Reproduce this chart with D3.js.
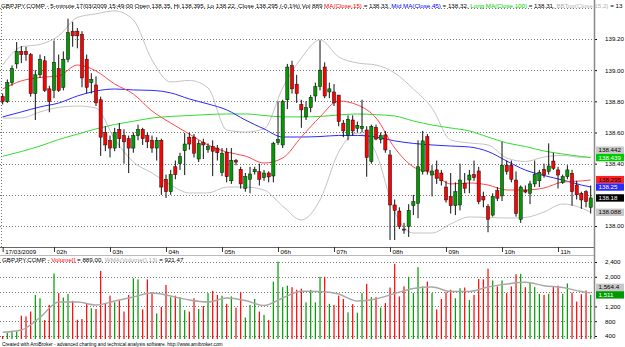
<!DOCTYPE html>
<html>
<head>
<meta charset="utf-8">
<script src="https://cdn.jsdelivr.net/npm/d3@7"></script>
<style>
body { margin: 0; background: #fff; }
svg { display: block; font-family: 'Liberation Sans', Arial, sans-serif; }
</style>
</head>
<body>
<svg id="chart" width="625" height="347"></svg>
<script>
// ---- data (GBPJPY 5-minute bars) ----
let openP = [138.83,138.80,138.92,139.04,139.12,139.12,139.10,138.85,138.97,139.06,138.88,138.87,139.01,138.89,139.07,139.25,139.25,139.23,139.07,138.92,138.905,
  138.81,138.60,138.55,138.50,138.62,138.58,138.56,138.50,138.58,138.62,138.58,138.55,138.50,138.55,138.30,138.22,138.38,
  138.40,138.483,138.57,138.57,138.43,138.535,138.49,138.51,138.50,138.342,138.473,138.29,138.42,138.364,138.242,138.30,138.348,138.348,138.31,138.34,138.321,138.535,
  138.52,138.81,139.03,138.91,138.78,138.70,138.76,138.834,138.894,139.02,138.86,138.86,138.84,138.66,138.58,138.68,138.627,138.625,138.616,138.413,138.633,138.555,
  138.584,138.456,138.135,138.096,137.98,137.996,138.13,138.146,138.35,138.573,138.327,138.36,138.34,138.25,138.19,138.13,138.135,138.274,138.295,138.33,
  138.353,138.19,138.124,138.07,138.227,138.193,138.39,138.39,138.295,138.043,138.23,138.21,138.27,138.29,138.364,138.35,138.417,138.36,138.278,138.316,
  138.338,138.263,138.21,138.22,138.12];
let highP = [138.85,138.94,139.03,139.18,139.155,139.15,139.11,139.00,139.10,139.09,138.90,139.19,139.10,139.12,139.33,139.31,139.27,139.25,139.10,138.98,138.96,
  138.83,138.64,138.58,138.63,138.66,138.62,138.58,138.60,138.65,138.63,138.60,138.58,138.57,138.56,138.33,138.36,138.42,
  138.47,138.597,138.60,138.59,138.55,138.56,138.53,138.55,138.52,138.50,138.50,138.50,138.43,138.38,138.34,138.38,138.38,138.40,138.36,138.35,138.54,138.80,
  138.81,139.04,139.06,138.97,138.81,138.80,138.84,138.92,139.19,139.05,138.92,138.91,138.84,138.68,138.71,138.71,138.67,138.81,138.64,138.65,138.65,138.60,
  138.61,138.488,138.17,138.12,138.02,138.14,138.20,138.55,138.61,138.59,138.39,138.42,138.36,138.29,138.34,138.28,138.40,138.34,138.36,138.42,
  138.38,138.22,138.14,138.21,138.25,138.54,138.42,138.42,138.35,138.26,138.26,138.29,138.42,138.36,138.40,138.53,138.47,138.38,138.33,138.39,
  138.36,138.29,138.22,138.23,138.26];
let lowP = [138.78,138.79,138.90,139.01,139.045,139.06,138.83,138.68,138.95,138.86,138.73,138.82,138.86,138.87,139.05,139.15,139.14,138.89,138.85,138.85,138.77,
  138.45,138.48,138.44,138.48,138.50,138.40,138.34,138.47,138.55,138.52,138.50,138.47,138.42,138.20,138.18,138.20,138.30,
  138.36,138.327,138.49,138.44,138.41,138.43,138.47,138.32,138.42,138.32,138.28,138.27,138.39,138.24,138.22,138.21,138.33,138.26,138.29,138.28,138.28,138.52,
  138.50,138.75,138.85,138.79,138.63,138.68,138.73,138.80,138.87,138.82,138.82,138.77,138.64,138.57,138.55,138.58,138.60,138.60,138.316,138.40,138.55,138.53,
  138.47,137.91,137.91,137.98,137.95,137.93,138.07,138.05,138.33,138.33,138.19,138.27,138.26,138.15,138.08,138.07,138.10,138.21,138.21,138.29,
  138.14,138.12,137.96,138.06,138.16,138.16,138.33,138.28,138.06,138.02,138.21,138.14,138.25,138.25,138.31,138.33,138.36,138.24,138.27,138.30,
  138.13,138.17,138.11,138.12,138.08];
let closeP = [138.80,138.92,139.01,139.12,139.10,139.10,138.85,138.97,139.07,138.87,138.80,139.05,138.87,139.07,139.24,139.22,139.22,138.95,138.89,138.94,138.79,
  138.57,138.52,138.50,138.60,138.56,138.54,138.50,138.58,138.62,138.56,138.54,138.50,138.55,138.25,138.22,138.33,138.33,
  138.445,138.526,138.526,138.467,138.53,138.52,138.51,138.48,138.47,138.467,138.316,138.42,138.41,138.27,138.317,138.334,138.364,138.30,138.34,138.315,138.531,138.556,
  138.80,139.02,138.88,138.85,138.745,138.76,138.826,138.894,139.00,138.834,138.88,138.79,138.67,138.61,138.685,138.61,138.646,138.64,138.44,138.64,138.558,138.58,
  138.488,138.135,138.10,137.996,137.975,138.10,138.156,138.38,138.546,138.353,138.353,138.306,138.29,138.167,138.13,138.22,138.295,138.242,138.327,138.31,
  138.156,138.167,138.043,138.19,138.178,138.39,138.35,138.30,138.08,138.25,138.218,138.27,138.33,138.345,138.327,138.385,138.37,138.327,138.316,138.36,
  138.22,138.20,138.167,138.156,138.18];
let volume = [400,480,540,520,950,930,1060,1510,1420,830,1240,2090,1560,1440,1540,1350,840,860,1290,1150,1130,2160,1270,1490,1310,1360,1060,1510,1960,1930,
  1120,1930,1580,1010,1190,1780,1450,1490,1450,1100,1060,1420,1130,1210,1560,1620,1510,1490,1270,1470,1170,1580,900,1240,1400,1060,970,830,1870,2410,
  1720,1760,1720,1650,1680,1310,1650,1310,2000,2000,1270,1240,1490,1400,1040,1260,1030,1560,1810,1450,1450,1170,1290,1710,2350,1470,1740,2000,1560,2260,
  1740,1870,1560,1120,1400,1580,1650,1420,1690,1710,1370,1510,1940,1930,2220,1900,1740,1900,1560,1740,2070,2080,1720,1850,1720,1540,1510,1540,1740,1760,
  1540,1820,1570,1330,1530,1630,1511];

// indicator lines, read every 4th bar
let lineIdx = [0,4,8,12,16,20,24,28,32,36,40,44,48,52,56,60,64,68,72,76,80,84,88,92,96,100,104,108,112,116,120,124,126];
let ma15 = [138.879,138.931,138.953,138.963,139.033,138.995,138.911,138.847,138.738,138.661,138.590,138.520,138.475,138.449,138.404,138.436,138.571,
  138.700,138.802,138.777,138.693,138.501,138.379,138.340,138.270,138.276,138.263,138.231,138.231,138.244,138.282,138.289,138.295];
let ma45 = [138.700,138.732,138.764,138.789,138.834,138.866,138.879,138.873,138.870,138.854,138.815,138.783,138.745,138.680,138.623,138.571,138.571,
  138.574,138.581,138.581,138.571,138.546,138.530,138.520,138.513,138.507,138.478,138.417,138.359,138.324,138.295,138.263,138.25];
let ma100 = [138.447,138.478,138.513,138.555,138.589,138.623,138.651,138.672,138.693,138.703,138.709,138.715,138.719,138.719,138.709,138.700,138.700,
  138.703,138.712,138.719,138.714,138.706,138.674,138.648,138.629,138.610,138.571,138.533,138.510,138.481,138.462,138.446,138.439];
let bbTop = [139.033,139.149,139.165,139.220,139.338,139.361,139.380,139.322,139.065,138.924,138.934,138.886,138.616,138.603,138.623,138.886,139.078,
  139.194,139.085,139.046,139.033,138.982,138.879,138.757,138.552,138.533,138.520,138.436,138.414,138.443,138.453,138.440,138.442];
let bbBot = [138.693,138.693,138.732,138.761,138.770,138.757,138.558,138.411,138.340,138.263,138.212,138.212,138.250,138.250,138.231,138.128,138.039,
  138.167,138.475,138.597,138.469,138.090,137.955,137.955,138.013,138.058,138.055,138.051,138.055,138.090,138.141,138.116,138.088];
let volWma = [500,562,900,1319,1319,1238,1346,1454,1562,1481,1373,1319,1427,1359,1224,1427,1608,1603,1535,1346,1400,1549,1684,1724,1603,1603,1724,
  1805,1851,1759,1711,1603,1564.4];

let timeTickIdx = [0, 11, 23, 35, 47, 59, 71, 83, 95, 107, 119];
let timeTickLabels = ['17/03/2009', '02h', '03h', '04h', '05h', '06h', '07h', '08h', '09h', '10h', '11h'];
let priceTicks = [138.0, 138.2, 138.4, 138.6, 138.8, 139.0, 139.2, 139.4];
let volTicks = [400, 800, 1200, 1600, 2000, 2400];

let upColor = '#009a00', downColor = '#ff0000';

// ---- layout ----
let svg = d3.select('#chart');
let plotRight = 594;
let pricePane = {t: 0, b: 247};
let volPane = {t: 255, b: 339};

let xScale = d3.scaleLinear().domain([0, closeP.length - 1]).range([2.67, 590.7]);
let yPrice = d3.scaleLinear().domain([138, 139.4]).range([226, 7.8]);
let yVol = d3.scaleLinear().domain([400, 2400]).range([336, 262]);

let defs = svg.append('defs');
defs.append('clipPath').attr('id', 'clipPrice').append('rect')
    .attr('x', 0).attr('y', pricePane.t).attr('width', plotRight).attr('height', pricePane.b - pricePane.t);
defs.append('clipPath').attr('id', 'clipVol').append('rect')
    .attr('x', 0).attr('y', volPane.t).attr('width', plotRight).attr('height', volPane.b - volPane.t);

function fitSize(str, width){
    let t = svg.append('text').style('font-size', '10px').text(str);
    let w = t.node().getComputedTextLength();
    t.remove();
    return 10 * width / w;
}

// ---- titles (text pieces) ----
let titleParts = [
    ['GBPJPY.COMP - 5-minute 17/03/2009 15:49:00 Open 138.35, Hi 138.395, Lo 138.22, Close 138.295 (-0.1%) Vol 889 ', '#000'],
    ['MA(Close,15)', '#ff0000'], [' = 138.33, ', '#000'],
    ['Mid MA(Close,45)', '#0000ff'], [' = 138.32, ', '#000'],
    ['Long MA(Close,100)', '#00d000'], [' = 138.31, ', '#000'],
    ['BBTop(Close,15,2)', '#b4b4b4'], [' = 13', '#000']
];
let volTitleParts = [
    ['GBPJPY.COMP - ', '#000'], ['Volume[]', '#ff0000'], [' = 889.00, ', '#000'],
    ['WMA(Volume(),13)', '#a8a8a8'], [' = 921.47', '#000']
];
let footer = 'Created with AmiBroker - advanced charting and technical analysis software. http://www.amibroker.com';

// the whole title line runs from the left edge to the right edge
let fontSize = fitSize(titleParts.map(p => p[0]).join(''), 622);

// ---- price pane grid ----
let priceG = svg.append('g').attr('clip-path', 'url(#clipPrice)');
priceG.selectAll('.pgrid').data(priceTicks).enter().append('line')
    .attr('class', 'pgrid')
    .attr('x1', 0).attr('x2', plotRight)
    .attr('y1', d => Math.round(yPrice(d)) + 0.5).attr('y2', d => Math.round(yPrice(d)) + 0.5)
    .attr('stroke', '#777').attr('stroke-dasharray', '1,2');
priceG.append('line')
    .attr('x1', 1.5).attr('x2', 1.5).attr('y1', 9).attr('y2', pricePane.b)
    .attr('stroke', '#777').attr('stroke-dasharray', '1,2');

// indicator lines
let priceLine = (vals) => d3.line()
    .x((d, i) => xScale(lineIdx[i]))
    .y(d => yPrice(d))
    .curve(d3.curveMonotoneX)(vals);
[[bbTop, '#c4c4c4'], [bbBot, '#c4c4c4'], [ma100, '#33dd33'], [ma45, '#2a2aff'], [ma15, '#ff4a4a']].forEach(l => {
    priceG.append('path').attr('d', priceLine(l[0]))
        .attr('fill', 'none').attr('stroke', l[1]).attr('stroke-width', 1);
});

// candles
let candle = priceG.selectAll('.candle').data(closeP).enter().append('g').attr('class', 'candle');
candle.append('line')
    .attr('x1', (d, i) => xScale(i)).attr('x2', (d, i) => xScale(i))
    .attr('y1', (d, i) => yPrice(highP[i])).attr('y2', (d, i) => yPrice(lowP[i]))
    .attr('stroke', '#111').attr('stroke-width', 1);
candle.append('rect')
    .attr('x', (d, i) => xScale(i) - 1.6)
    .attr('width', 3.2)
    .attr('y', (d, i) => yPrice(Math.max(openP[i], d)))
    .attr('height', (d, i) => Math.max(1, Math.abs(yPrice(openP[i]) - yPrice(d))))
    .attr('fill', (d, i) => d >= openP[i] ? upColor : downColor)
    .attr('stroke', '#111').attr('stroke-width', 0.5);

// ---- time axis ----
let timeAxis = d3.axisBottom(xScale)
    .tickValues(timeTickIdx)
    .tickFormat((d, i) => timeTickLabels[i])
    .tickSizeInner(5).tickSizeOuter(0);
let timeAxisG = svg.append('g')
    .attr('transform', `translate(0, ${pricePane.b})`)
    .call(timeAxis);
timeAxisG.select('.domain').attr('d', `M0,0.5H${plotRight}`).attr('stroke', '#666');
timeAxisG.selectAll('.tick line').attr('stroke', '#333');
timeAxisG.selectAll('.tick text')
    .attr('text-anchor', 'start').attr('x', 2).attr('y', 3).attr('dy', '0.71em')
    .style('font-size', fontSize + 'px').attr('fill', '#000');

// ---- volume pane ----
svg.append('line').attr('x1', 0).attr('x2', plotRight).attr('y1', volPane.t + 0.5).attr('y2', volPane.t + 0.5)
    .attr('stroke', '#bbb');
let volG = svg.append('g').attr('clip-path', 'url(#clipVol)');
volG.selectAll('.vgrid').data(volTicks).enter().append('line')
    .attr('class', 'vgrid')
    .attr('x1', 0).attr('x2', plotRight)
    .attr('y1', d => Math.round(yVol(d)) + 0.5).attr('y2', d => Math.round(yVol(d)) + 0.5)
    .attr('stroke', '#777').attr('stroke-dasharray', '1,2');
volG.selectAll('.vbar').data(volume).enter().append('rect')
    .attr('class', 'vbar')
    .attr('x', (d, i) => xScale(i) - 0.6)
    .attr('width', 1.2)
    .attr('y', d => yVol(d))
    .attr('height', d => volPane.b - yVol(d))
    .attr('fill', (d, i) => closeP[i] >= openP[i] ? upColor : downColor);
volG.append('path')
    .attr('d', d3.line().x((d, i) => xScale(lineIdx[i])).y(d => yVol(d)).curve(d3.curveMonotoneX)(volWma))
    .attr('fill', 'none').attr('stroke', '#a8a8a8').attr('stroke-width', 1.4);

// ---- right axes ----
let last = a => a[a.length - 1];
let fmtP = v => String(+v.toFixed(3));
let priceTags = [
    {v: last(bbTop), bg: '#c8c8c8', fg: '#000'},
    {v: last(ma100), bg: '#00c800', fg: '#fff'},
    {v: last(ma15), bg: '#ff2020', fg: '#000'},
    {v: last(ma45), bg: '#2a2aff', fg: '#fff'},
    {v: last(closeP), bg: '#000', fg: '#fff'},
    {v: last(bbBot), bg: '#c8c8c8', fg: '#000'}
];
let volTags = [
    {v: last(volWma), bg: '#c8c8c8', fg: '#000', txt: d3.format(',')(last(volWma))},
    {v: last(volume), bg: '#009a00', fg: '#fff', txt: d3.format(',')(last(volume))}
];
function placeTags(tags, scale, h){
    tags.forEach(t => t.y = scale(t.v));
    let s = tags.slice().sort((a, b) => b.y - a.y);
    for(let k = 1; k < s.length; k++){
        if(s[k].y > s[k - 1].y - h) s[k].y = s[k - 1].y - h;
    }
}
placeTags(priceTags, yPrice, 7.4);
placeTags(volTags, yVol, 7.6);

// the top price level sits under the title line, so it gets no label
let priceAxis = d3.axisRight(yPrice)
    .tickValues(priceTicks.filter(p => yPrice(p) > 20 && priceTags.every(t => Math.abs(yPrice(p) - t.y) > 6)))
    .tickFormat(d3.format('.2f')).tickSizeInner(3).tickSizeOuter(0).tickPadding(8);
let priceAxisG = svg.append('g').attr('transform', `translate(${plotRight}, 0)`).call(priceAxis);
priceAxisG.select('.domain').remove();
priceAxisG.selectAll('text').style('font-size', fontSize + 'px').attr('fill', '#000');

let volAxis = d3.axisRight(yVol)
    .tickValues(volTicks.filter(p => volTags.every(t => Math.abs(yVol(p) - t.y) > 6)))
    .tickFormat(d3.format(',')).tickSizeInner(3).tickSizeOuter(0).tickPadding(8);
let volAxisG = svg.append('g').attr('transform', `translate(${plotRight}, 0)`).call(volAxis);
volAxisG.select('.domain').remove();
volAxisG.selectAll('text').style('font-size', fontSize + 'px').attr('fill', '#000');

svg.append('line').attr('x1', plotRight + 0.5).attr('x2', plotRight + 0.5).attr('y1', 0).attr('y2', volPane.b)
    .attr('stroke', '#888').attr('stroke-width', 1.5);

function drawTags(tags, fmt){
    let g = svg.selectAll(null).data(tags).enter().append('g')
        .attr('transform', d => `translate(${plotRight + 2}, ${d.y})`);
    g.append('rect').attr('x', 0).attr('y', -3.7).attr('width', 28).attr('height', 7.4).attr('fill', d => d.bg);
    g.append('text').attr('x', 2.5).attr('y', 0).attr('dy', '0.34em')
        .style('font-size', fontSize + 'px').attr('fill', d => d.fg)
        .text(d => d.txt || fmt(d.v));
}
drawTags(priceTags, fmtP);
drawTags(volTags, null);

// ---- titles ----
let title = svg.append('text').attr('x', 1).attr('y', 7.5).style('font-size', fontSize + 'px');
title.selectAll('tspan').data(titleParts).enter().append('tspan')
    .attr('fill', d => d[1]).text(d => d[0]);

let volTitle = svg.append('text').attr('x', 2).attr('y', 261.5).style('font-size', fontSize + 'px');
volTitle.selectAll('tspan').data(volTitleParts).enter().append('tspan')
    .attr('fill', d => d[1]).text(d => d[0]);

svg.append('text').attr('x', 2).attr('y', 345.5)
    .style('font-size', fitSize(footer, 221) + 'px').attr('fill', '#000').text(footer);
</script>
</body>
</html>
